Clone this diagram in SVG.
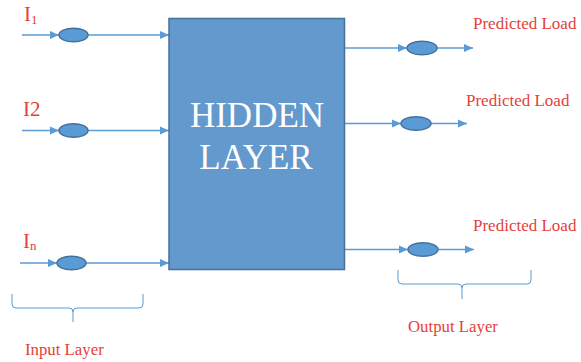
<svg xmlns="http://www.w3.org/2000/svg" width="581" height="362" viewBox="0 0 581 362">
  <defs>
    <marker id="arrow" viewBox="0 0 10 10" refX="10" refY="5" markerWidth="9.5" markerHeight="8.5" markerUnits="userSpaceOnUse" orient="auto" preserveAspectRatio="none">
      <path d="M0,0 L10,5 L0,10 Z" fill="#5B9BD5"/>
    </marker>
    <style>
      .wire { stroke: #5B9BD5; stroke-width: 1.3; fill: none; }
      .neuron { fill: #5B9BD5; stroke: #41719C; stroke-width: 1.5; }
      .brace { stroke: #5B9BD5; stroke-width: 1; fill: none; }
      .lbl { font-family: 'Liberation Serif', 'DejaVu Serif', serif; fill: #E5413A; }
      .big { font-family: 'Liberation Serif', 'DejaVu Serif', serif; fill: #FFFFFF; font-size: 35px; text-anchor: middle; }
    </style>
  </defs>
  <rect width="581" height="362" fill="#FFFFFF"/>

  <g id="connectors">
    <!-- inputs -->
    <line class="wire" x1="22" y1="35" x2="59" y2="35" marker-end="url(#arrow)"/>
    <line class="wire" x1="88" y1="35" x2="169" y2="35" marker-end="url(#arrow)"/>
    <line class="wire" x1="22" y1="130.5" x2="59" y2="130.5" marker-end="url(#arrow)"/>
    <line class="wire" x1="88" y1="130.5" x2="169" y2="130.5" marker-end="url(#arrow)"/>
    <line class="wire" x1="20" y1="263" x2="57" y2="263" marker-end="url(#arrow)"/>
    <line class="wire" x1="86" y1="263" x2="169" y2="263" marker-end="url(#arrow)"/>
    <!-- outputs -->
    <line class="wire" x1="345" y1="48" x2="407" y2="48" marker-end="url(#arrow)"/>
    <line class="wire" x1="437" y1="48" x2="473" y2="48" marker-end="url(#arrow)"/>
    <line class="wire" x1="345" y1="123.5" x2="401" y2="123.5" marker-end="url(#arrow)"/>
    <line class="wire" x1="431" y1="123.5" x2="467" y2="123.5" marker-end="url(#arrow)"/>
    <line class="wire" x1="345" y1="249.5" x2="408" y2="249.5" marker-end="url(#arrow)"/>
    <line class="wire" x1="438" y1="249.5" x2="474" y2="249.5" marker-end="url(#arrow)"/>
  </g>

  <g id="hidden-layer">
    <rect x="169" y="18.5" width="175.5" height="251" fill="#6399CC" stroke="#41719C" stroke-width="1.5"/>
    <text class="big" x="257" y="127">HIDDEN</text>
    <text class="big" x="256" y="169">LAYER</text>
  </g>

  <g id="input-1">
    <ellipse class="neuron" cx="73.5" cy="35" rx="14.5" ry="6.8"/>
    <text class="lbl" x="24" y="21" font-size="21">I<tspan font-size="13" dy="3">1</tspan></text>
  </g>
  <g id="input-2">
    <ellipse class="neuron" cx="73.5" cy="130.5" rx="14.5" ry="6.8"/>
    <text class="lbl" x="23" y="116" font-size="21">I2</text>
  </g>
  <g id="input-n">
    <ellipse class="neuron" cx="71.5" cy="263" rx="14.5" ry="6.8"/>
    <text class="lbl" x="23" y="248" font-size="21">I<tspan font-size="13" dy="2">n</tspan></text>
  </g>

  <g id="output-1">
    <ellipse class="neuron" cx="422" cy="48" rx="15" ry="6.8"/>
    <text class="lbl" x="473" y="29" font-size="17">Predicted Load</text>
  </g>
  <g id="output-2">
    <ellipse class="neuron" cx="416" cy="123.5" rx="15" ry="6.8"/>
    <text class="lbl" x="466" y="106" font-size="17">Predicted Load</text>
  </g>
  <g id="output-3">
    <ellipse class="neuron" cx="423" cy="249.5" rx="15" ry="6.8"/>
    <text class="lbl" x="473" y="231" font-size="17">Predicted Load</text>
  </g>

  <g id="input-layer">
    <path class="brace" d="M12,294 L12,304 Q12,308 16,308 L69,308 Q73,308 73,312 L73,322 M73,312 Q73,308 77,308 L139,308 Q143,308 143,304 L143,294"/>
    <text class="lbl" x="25" y="355" font-size="16.8">Input Layer</text>
  </g>
  <g id="output-layer">
    <path class="brace" d="M398,270 L398,280 Q398,284 402,284 L458,284 Q462,284 462,288 L462,299 M462,288 Q462,284 466,284 L527,284 Q531,284 531,280 L531,270"/>
    <text class="lbl" x="408" y="332" font-size="16.8">Output Layer</text>
  </g>
</svg>
